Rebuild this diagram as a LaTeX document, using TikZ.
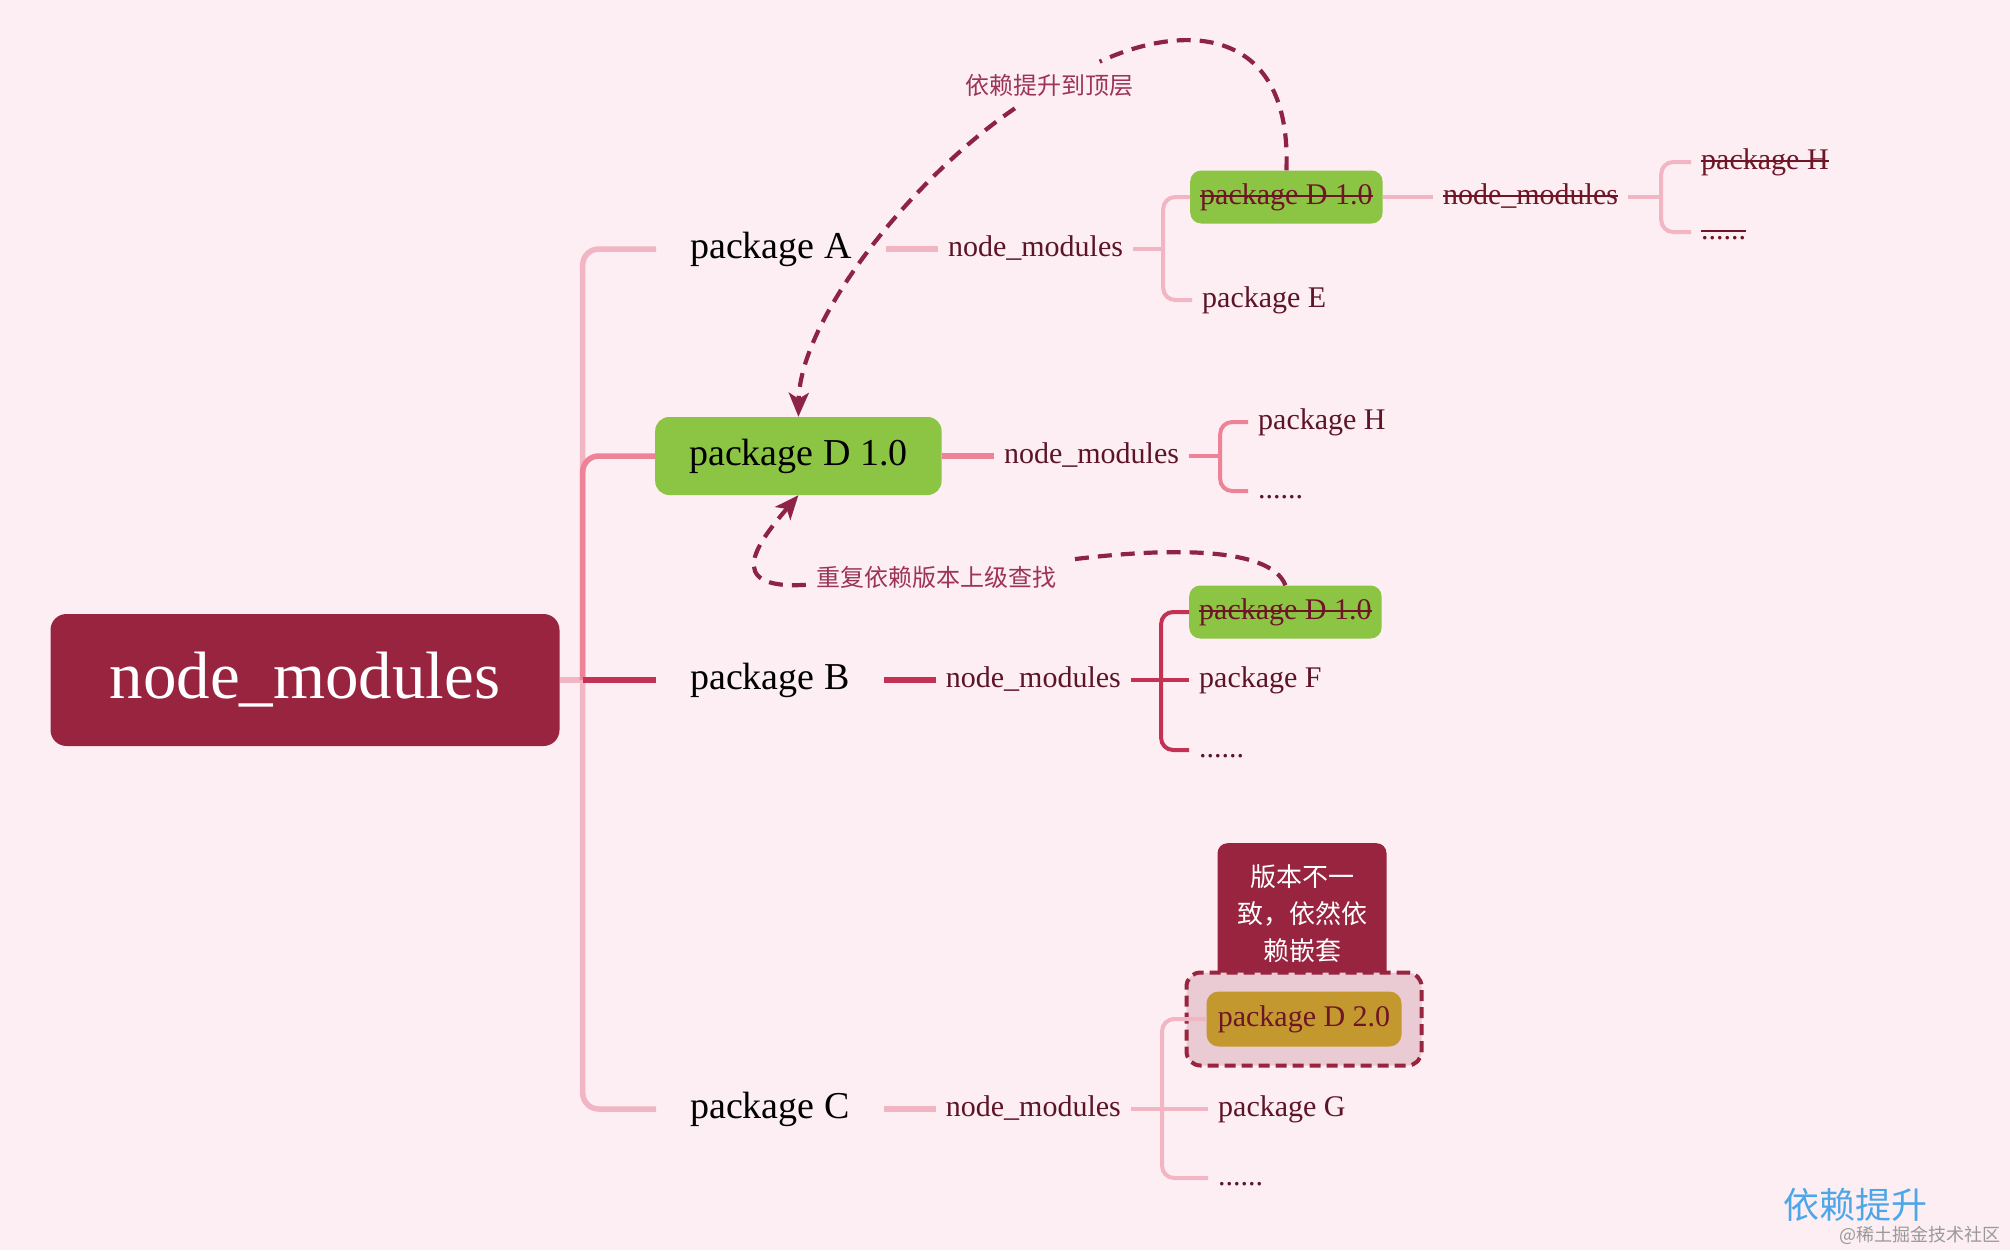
\documentclass[tikz,border=0pt]{standalone}
\usepackage{fontspec}
\setmainfont{Liberation Serif}
\newfontfamily\cjk{Noto Sans CJK SC}
\usepackage{xcolor}
\usepackage{tikz}
\usetikzlibrary{positioning}
\usetikzlibrary{arrows.meta}
\definecolor{bgpink}{HTML}{FCEEF2}
\definecolor{rootred}{HTML}{98243F}
\definecolor{leafgreen}{HTML}{8CC443}
\definecolor{mustard}{HTML}{C3992F}
\definecolor{hlpink}{HTML}{EACAD3}
\definecolor{txtred}{HTML}{5E1428}
\definecolor{strikered}{HTML}{6E1526}
\definecolor{palepink}{HTML}{F2B5C4}
\definecolor{midpink}{HTML}{EE8397}
\definecolor{deepred}{HTML}{C33254}
\definecolor{arrowred}{HTML}{8E2348}
\definecolor{notered}{HTML}{9C3358}
\definecolor{wmblue}{HTML}{4DA6E8}
\newsavebox\strikebox
\newcommand\struck[1]{\sbox\strikebox{#1}\rlap{\usebox\strikebox}\rule[0.22em]{\wd\strikebox}{2pt}}
\tikzset{rootbox/.style={fill=rootred, text=white, rounded corners=16pt, minimum width=509pt, minimum height=132pt, font=\fontsize{67}{70}\selectfont}}
\tikzset{lvone/.style={anchor=west, inner xsep=34pt, minimum height=78pt, rounded corners=14pt, text=black, font=\fontsize{38}{42}\selectfont}}
\tikzset{sub/.style={anchor=west, inner xsep=10pt, inner ysep=0pt, text height=22pt, text depth=8pt, text=txtred, font=\fontsize{30}{34}\selectfont}}
\tikzset{gonebox/.style={sub, fill=leafgreen, text=strikered, rounded corners=11pt, minimum height=53pt}}
\tikzset{tanbox/.style={fill=mustard, text=strikered, rounded corners=12pt, minimum width=195pt, minimum height=55pt, font=\fontsize{30}{34}\selectfont}}
\tikzset{hlbox/.style={draw=rootred, fill=hlpink, line width=4pt, dash pattern=on 11pt off 6pt, rounded corners=14pt, minimum width=235pt, minimum height=93pt}}
\tikzset{warnbox/.style={anchor=north, fill=rootred, text=white, rounded corners=10pt, minimum width=169pt, minimum height=140pt, align=center, font=\fontsize{26}{37}\cjk}}
\tikzset{note/.style={text=notered, inner xsep=10pt, inner ysep=12pt, font=\fontsize{24}{28}\cjk}}
\tikzset{stem/.style={line width=5.5pt, rounded corners=16pt}}
\tikzset{twig/.style={line width=4pt, rounded corners=12pt}}
\tikzset{dep/.style={draw=arrowred, line width=4.2pt, dash pattern=on 14pt off 9pt}}
\tikzset{tip/.style={-{Stealth[length=24pt,width=20pt,inset=6pt]}}}
\begin{document}
\begin{tikzpicture}[x=1pt,y=-1pt]
\fill[bgpink] (0,0) rectangle (2010,1250);
\useasboundingbox (0,0) rectangle (2010,1250);

\node[rootbox] (root) at (305,680) {node\_modules};

\node[lvone] (pA) at (656,249) {package A};
\node[lvone,fill=leafgreen] (d1) at (655,456) {package D 1.0};
\node[lvone] (pB) at (656,680) {package B};
\node[lvone] (pC) at (656,1109) {package C};

\node[sub,right=52pt of pA] (nmA) {node\_modules};
\node[sub,right=52pt of d1] (nmD) {node\_modules};
\node[sub,right=52pt of pB] (nmB) {node\_modules};
\node[sub,right=52pt of pC] (nmC) {node\_modules};

\node[gonebox] (dA) at (1190,197) {\struck{package D 1.0}};
\node[sub] (pE) at (1192,300) {package E};
\node[sub,text=strikered,right=50pt of dA] (nmA2) {\struck{node\_modules}};
\node[sub,text=strikered] (pHA) at (1691,162) {\struck{package H}};
\node[sub,text=strikered] (dotsA) at (1691,232) {\struck{......}};

\node[sub] (pHD) at (1248,422) {package H};
\node[sub] (dotsD) at (1248,491) {......};

\node[gonebox] (dB) at (1189,612) {\struck{package D 1.0}};
\node[sub] (pF) at (1189,680) {package F};
\node[sub] (dotsB) at (1189,750) {......};

\node[warnbox] (warn) at (1302,843) {版本不一\\致，依然依\\赖嵌套};
\node[hlbox] (hl) at (1304,1019) {};
\node[tanbox] (d2) at (hl) {package D 2.0};
\node[sub] (pG) at (1208,1109) {package G};
\node[sub] (dotsC) at (1208,1178) {......};

\node[note] (lift) at (1049,85) {依赖提升到顶层};
\node[note] (reloc) at (936,577) {重复依赖版本上级查找};

\draw[stem,palepink] (root.east) -- ++(23,0) coordinate (trunk);
\draw[stem,palepink] (pA.west) -| (trunk) |- (pC.west);
\draw[stem,midpink] (d1.west) -| (trunk);
\draw[stem,deepred] (trunk) -- (pB.west);

\draw[stem,palepink] (pA.east) -- (nmA.west);
\draw[twig,palepink] (nmA.east) -- ++(30,0) coordinate (jA);
\draw[twig,palepink] (dA.west) -| (jA) |- (pE.west);
\draw[twig,palepink] (dA.east) -- (nmA2.west);
\draw[twig,palepink] (nmA2.east) -- ++(33,0) coordinate (jA2);
\draw[twig,palepink] (pHA.west) -| (jA2) |- (dotsA.west);

\draw[stem,midpink] (d1.east) -- (nmD.west);
\draw[twig,midpink] (nmD.east) -- ++(31,0) coordinate (jD);
\draw[twig,midpink] (pHD.west) -| (jD) |- (dotsD.west);

\draw[stem,deepred] (pB.east) -- (nmB.west);
\draw[twig,deepred] (nmB.east) -- ++(30,0) coordinate (jB) -- (pF.west);
\draw[twig,deepred] (dB.west) -| (jB) |- (dotsB.west);

\draw[stem,palepink] (pC.east) -- (nmC.west);
\draw[twig,palepink] (nmC.east) -- ++(31,0) coordinate (jC) -- (pG.west);
\draw[twig,palepink] (d2.west) -| (jC) |- (dotsC.west);

\draw[dep] (dA.north) .. controls (1292,30) and (1190,20) .. (lift);
\draw[dep,tip] (lift) .. controls (910,180) and (800,320) .. (d1.north);
\draw[dep] (dB.north) .. controls (1270,545) and (1160,548) .. (reloc);
\draw[dep,tip] (reloc) .. controls (720,590) and (760,540) .. (d1.south);

\node[text=wmblue,font=\fontsize{36}{40}\cjk] (wm) at (1855,1205) {依赖提升};
\node[anchor=east,text=gray!80,font=\fontsize{18}{20}\cjk] (src) at (2004,1235) {@稀土掘金技术社区};
\end{tikzpicture}
\end{document}
